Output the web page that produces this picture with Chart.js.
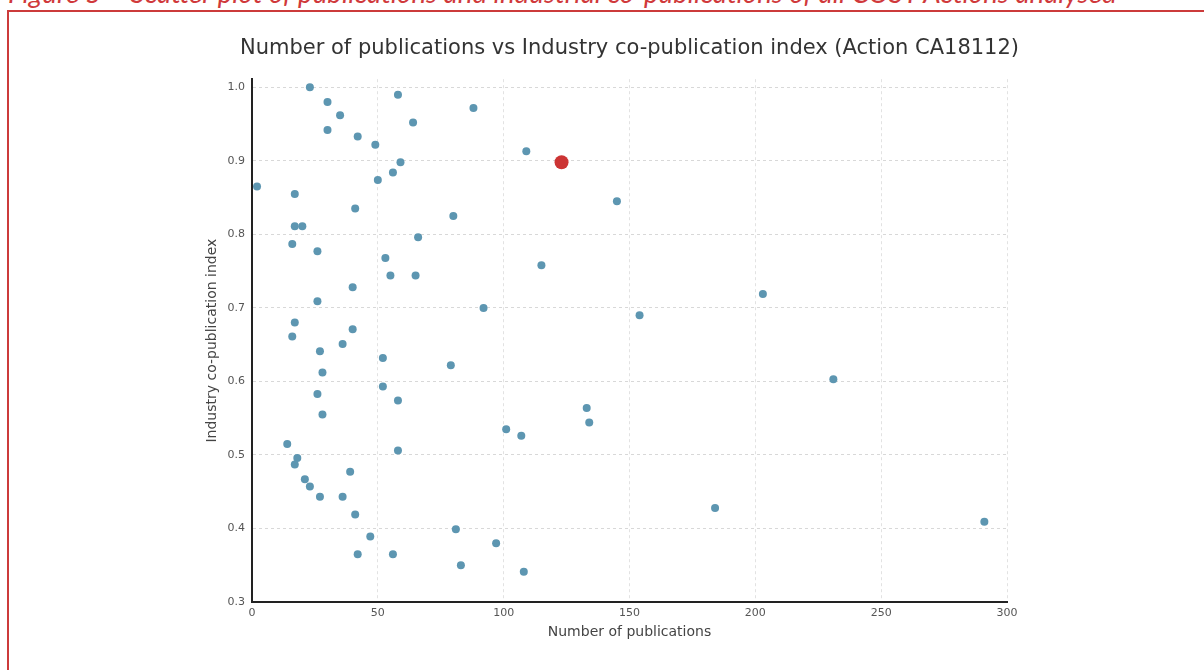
<!DOCTYPE html>
<html>
<head>
<meta charset="utf-8">
<script src="https://cdn.jsdelivr.net/npm/chart.js@4.4.1/dist/chart.umd.min.js"></script>
<style>
  body { margin: 0; background: #fff; width: 1204px; height: 670px; overflow: hidden; position: relative; font-family: Lato, sans-serif; }
  .caption { position: absolute; left: 8px; top: -21px; font-size: 27.7px; line-height: 27.5px; font-style: italic; color: #d0393b; white-space: nowrap; }
  .frame { position: absolute; left: 7px; top: 10px; width: 1300px; height: 700px; border-left: 2px solid #cc3b3b; border-top: 2px solid #cc3b3b; }
  #wrap { position: absolute; left: 0; top: 0; width: 1204px; height: 670px; }
</style>
</head>
<body>
<div class="caption">Figure 5 – Scatter plot of publications and industrial co-publications of all COST Actions analysed</div>
<div class="frame"></div>
<div id="wrap"><canvas id="chart" width="1204" height="670"></canvas></div>
<script>
// all other COST Actions
const publications = [2, 23, 30, 35, 30, 42, 49, 58, 88, 64, 109, 59, 56, 50, 17, 145, 41, 80, 17, 20,
  66, 16, 26, 53, 115, 55, 65, 203, 40, 26, 92, 154, 17, 40, 16, 36, 27, 52, 79, 28,
  231, 52, 26, 58, 133, 28, 134, 101, 107, 14, 58, 18, 17, 39, 21, 23, 27, 36, 41, 184,
  291, 81, 47, 97, 42, 56, 83, 108];
const coPubIndex = [0.865, 1.0, 0.98, 0.962, 0.942, 0.933, 0.922, 0.99, 0.972, 0.952, 0.913, 0.898, 0.884, 0.874, 0.855, 0.845, 0.835, 0.825, 0.811, 0.811,
  0.796, 0.787, 0.777, 0.768, 0.758, 0.744, 0.744, 0.719, 0.728, 0.709, 0.7, 0.69, 0.68, 0.671, 0.661, 0.651, 0.641, 0.632, 0.622, 0.612,
  0.603, 0.593, 0.583, 0.574, 0.564, 0.555, 0.544, 0.535, 0.526, 0.515, 0.506, 0.496, 0.487, 0.477, 0.467, 0.457, 0.443, 0.443, 0.419, 0.428,
  0.409, 0.399, 0.389, 0.38, 0.365, 0.365, 0.35, 0.341];

// CA18112
const actionPublications = [123];
const actionIndex = [0.898];

const xTicks = [0, 50, 100, 150, 200, 250, 300];
const yTicks = [0.3, 0.4, 0.5, 0.6, 0.7, 0.8, 0.9, 1.0];

const toPoints = (xs, ys) => xs.map((x, i) => ({ x: x, y: ys[i] }));

new Chart(document.getElementById('chart'), {
  type: 'scatter',
  data: {
    datasets: [
      {
        label: 'CA18112',
        data: toPoints(actionPublications, actionIndex),
        backgroundColor: '#cc3434',
        borderWidth: 0,
        pointRadius: 7,
      },
      {
        label: 'COST Actions',
        data: toPoints(publications, coPubIndex),
        backgroundColor: '#5d96b1',
        borderWidth: 0,
        pointRadius: 4,
      },
    ],
  },
  options: {
    responsive: false,
    animation: false,
    layout: { padding: { left: 204, right: 149, top: 0, bottom: 18 } },
    plugins: {
      legend: { display: false },
      tooltip: { enabled: false },
      title: {
        display: true,
        text: 'Number of publications vs Industry co-publication index (Action CA18112)',
        color: '#333',
        font: { family: 'DejaVu Sans', size: 21, weight: 'normal' },
        padding: { top: 36, bottom: 18 },
      },
    },
    scales: {
      x: {
        type: 'linear',
        min: 0,
        max: 300,
        afterBuildTicks: (axis) => { axis.ticks = xTicks.map((v) => ({ value: v })); },
        afterFit: (axis) => { axis.height = 50; },
        grid: { color: '#e2e2e2', drawTicks: false },
        border: { color: '#222', width: 2, dash: [3, 3] },
        ticks: { color: '#555', padding: 5, font: { family: 'DejaVu Sans', size: 11 } },
        title: {
          display: true,
          text: 'Number of publications',
          color: '#444',
          font: { family: 'DejaVu Sans', size: 14 },
          padding: { top: 0, bottom: 11 },
        },
      },
      y: {
        type: 'linear',
        min: 0.3,
        max: 1.011,
        afterBuildTicks: (axis) => { axis.ticks = yTicks.map((v) => ({ value: v })); },
        afterFit: (axis) => { axis.width = 48; },
        grid: { color: '#d8d8d8', drawTicks: false },
        border: { color: '#222', width: 2, dash: [3, 3] },
        ticks: {
          color: '#555',
          padding: 7,
          font: { family: 'DejaVu Sans', size: 11 },
          callback: (v) => v.toFixed(1),
        },
        title: {
          display: true,
          text: 'Industry co-publication index',
          color: '#444',
          font: { family: 'DejaVu Sans', size: 14 },
          padding: { top: 0, bottom: 0 },
        },
      },
      // empty right-hand spacer so the chart title centres over the plot
      spacer: {
        type: 'linear',
        position: 'right',
        grid: { display: false },
        border: { display: false },
        ticks: { display: false },
        afterFit: (axis) => { axis.width = 48; },
      },
    },
  },
});
</script>
</body>
</html>
